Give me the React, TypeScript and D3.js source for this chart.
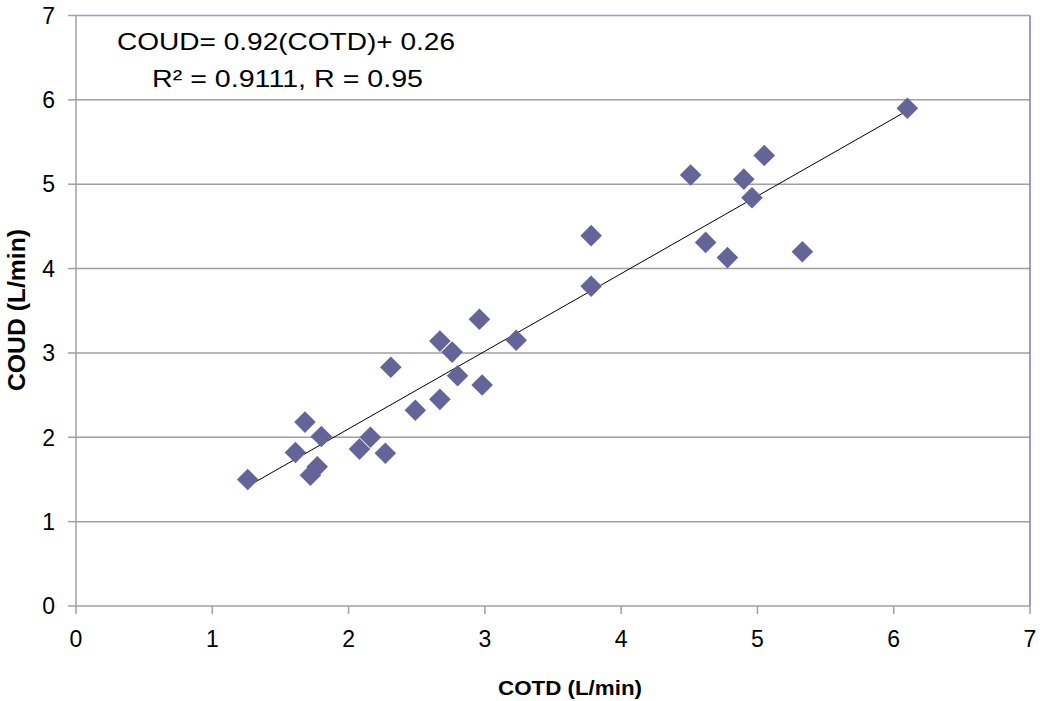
import React from "react";
import * as d3 from "d3";

const cotd = [1.26, 1.61, 1.68, 1.72, 1.77, 1.8, 2.08, 2.16, 2.27, 2.31, 2.49, 2.67, 2.67, 2.76, 2.8, 2.96, 2.98, 3.23, 3.78, 3.78, 4.51, 4.62, 4.78, 4.9, 4.96, 5.05, 5.33, 6.1];
const coud = [1.5, 1.82, 2.18, 1.55, 1.65, 2.01, 1.86, 2.0, 1.81, 2.83, 2.32, 2.45, 3.14, 3.01, 2.73, 3.4, 2.62, 3.15, 3.79, 4.39, 5.11, 4.31, 4.13, 5.06, 4.84, 5.34, 4.2, 5.9];
const xTicks = [0, 1, 2, 3, 4, 5, 6, 7];
const yTicks = [0, 1, 2, 3, 4, 5, 6, 7];
const slope = 0.92;
const intercept = 0.26;
const eqLine1 = "COUD= 0.92(COTD)+ 0.26";
const eqLine2 = "R² = 0.9111, R = 0.95";
const xTitle = "COTD (L/min)";
const yTitle = "COUD (L/min)";

export default function App() {
  const W = 1050, H = 701;
  const left = 76, right = 1030, top = 15.5, bottom = 606;
  const x = d3.scaleLinear().domain([0, 7]).range([left, right]);
  const y = d3.scaleLinear().domain([0, 7]).range([bottom, top]);
  const font = "'Liberation Sans', Arial, sans-serif";
  const xMin = d3.min(cotd)!, xMax = d3.max(cotd)!;
  const line = d3.line<number>().x((d) => x(d)).y((d) => y(slope * d + intercept));
  const s = 10.8;
  const dpath = `M0,${-s}L${s},0L0,${s}L${-s},0Z`;
  return (
    <svg width={W} height={H} style={{ position: "absolute", left: 0, top: 0, background: "#fff" }} fontFamily={font}>
      {yTicks.filter((t) => t > 0 && t < 7).map((t) => (
        <line key={"g" + t} x1={left} x2={right} y1={y(t)} y2={y(t)} stroke="#a0a0a0" strokeWidth={1.5} />
      ))}
      <line x1={left} x2={right} y1={y(7)} y2={y(7)} stroke="#9d9dcc" strokeWidth={1.5} />
      <line x1={right} x2={right} y1={top} y2={bottom} stroke="#7a7ac0" strokeWidth={1.5} />
      <line x1={left} x2={left} y1={top} y2={bottom + 1} stroke="#a0a0a0" strokeWidth={1.5} />
      <line x1={left} x2={right} y1={bottom} y2={bottom} stroke="#a0a0a0" strokeWidth={1.5} />
      {yTicks.map((t) => (
        <g key={"y" + t}>
          <line x1={left - 8} x2={left} y1={y(t)} y2={y(t)} stroke="#a0a0a0" strokeWidth={1.5} />
          <text x={55} y={y(t)} dy="0.36em" textAnchor="end" fontSize={23} fill="#000">{t}</text>
        </g>
      ))}
      {xTicks.map((t) => (
        <g key={"x" + t}>
          <line x1={x(t)} x2={x(t)} y1={bottom} y2={bottom + 8} stroke="#a0a0a0" strokeWidth={1.5} />
          <text x={x(t)} y={647} textAnchor="middle" fontSize={23} fill="#000">{t}</text>
        </g>
      ))}
      <path d={line([xMin, xMax]) || ""} stroke="#000" strokeWidth={1} fill="none" />
      {cotd.map((v, i) => (
        <path key={"p" + i} d={dpath} transform={`translate(${x(v)},${y(coud[i])})`} fill="#646499" />
      ))}
      <text x={117} y={50} fontSize={24} textLength={338} lengthAdjust="spacingAndGlyphs" fill="#000">{eqLine1}</text>
      <text x={152} y={87} fontSize={24} textLength={271} lengthAdjust="spacingAndGlyphs" fill="#000">{eqLine2}</text>
      <text x={498} y={695} fontSize={21} fontWeight="bold" textLength={144} lengthAdjust="spacingAndGlyphs" fill="#000">{xTitle}</text>
      <text transform={`translate(25,391) rotate(-90)`} fontSize={23} fontWeight="bold" textLength={162} lengthAdjust="spacingAndGlyphs" fill="#000">{yTitle}</text>
    </svg>
  );
}
